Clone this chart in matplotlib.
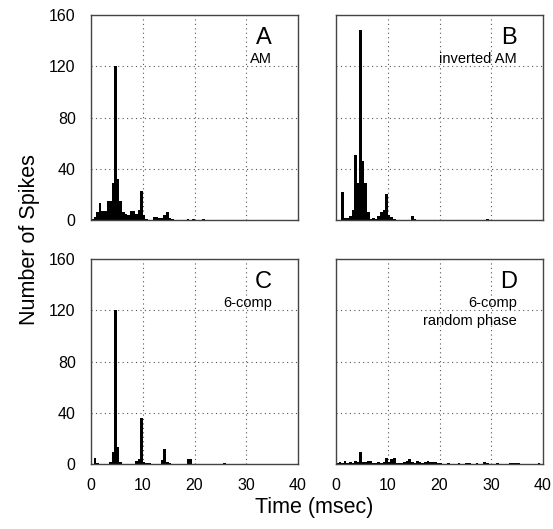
import numpy as np
import matplotlib.pyplot as plt

plt.rcParams['font.family'] = ['Liberation Sans', 'DejaVu Sans']

# histogram bins are 0.5 msec wide, listed by their left edge
a_time = [0.0, 0.5, 1.0, 1.5, 2.0, 2.5, 3.0, 3.5, 4.0, 4.5, 5.0, 5.5, 6.0, 6.5, 7.0,
          7.5, 8.0, 8.5, 9.0, 9.5, 10.0, 10.5, 12.0, 12.5, 13.0, 13.5, 14.0, 14.5,
          15.0, 15.5, 18.5, 19.5, 21.5]
a_count = [1, 2, 6.5, 13, 7, 7, 15, 15, 29, 120, 32, 15, 6.5, 4.7, 4,
           7, 7, 4.5, 8, 22.6, 4, 1, 2.6, 2.6, 1.5, 1.5, 4, 6, 1.5, 0.5, 0.5, 0.5, 0.5]

b_time = [1.0, 1.5, 2.0, 2.5, 3.0, 3.5, 4.0, 4.5, 5.0, 5.5, 6.0, 6.5, 7.0, 7.5,
          8.0, 8.5, 9.0, 9.5, 10.0, 10.5, 11.0, 14.5, 15.0, 29.0]
b_count = [22, 1.3, 1.5, 3, 8, 51, 29, 148, 46, 29, 6.5, 0.5, 1.5, 0.5,
           3, 6.5, 8, 20, 4, 2, 0.5, 3, 1, 1]

c_time = [0.5, 1.0, 3.5, 4.0, 4.5, 5.0, 5.5, 8.5, 9.0, 9.5, 10.0, 10.5, 11.0,
          13.5, 14.0, 14.5, 15.0, 18.5, 19.0, 25.5]
c_count = [5, 1, 1.3, 9.6, 120, 13, 1.5, 2, 4, 36, 1.5, 0.8, 0.8,
           3, 12, 1.5, 0.5, 4, 4, 0.7]

d_time = [0.0, 0.5, 1.0, 1.5, 2.0, 2.5, 3.0, 3.5, 4.0, 4.5, 5.0, 5.5, 6.0, 6.5,
          7.0, 7.5, 8.0, 8.5, 9.0, 9.5, 10.0, 10.5, 11.0, 11.5, 12.0, 12.5, 13.0,
          13.5, 14.0, 14.5, 15.0, 15.5, 16.0, 16.5, 17.0, 17.5, 18.0, 18.5, 19.0,
          19.5, 20.0, 21.5, 23.5, 25.0, 25.5, 27.0, 28.5, 29.0, 31.0, 33.5, 34.0,
          34.5, 35.0, 39.0]
d_count = [0.5, 1.5, 0.8, 2.3, 0.8, 1.5, 0.8, 2.3, 1.5, 9.4, 1.5, 1.3, 2, 2.3,
           1, 1, 1.3, 1, 1.3, 4.4, 1.3, 3.6, 4.7, 0.8, 0.5, 0.8, 1.5,
           2.6, 3.6, 1.3, 0.5, 2, 1.5, 1, 1.3, 2, 1.3, 1.8, 1.8,
           1, 0.8, 0.8, 0.8, 0.8, 0.8, 0.8, 1.5, 0.8, 0.8, 1, 1,
           1, 1, 0.8]

letters = ['A', 'B', 'C', 'D']
subtitles = [['AM'], ['inverted AM'], ['6-comp'], ['6-comp', 'random phase']]
x_ticks = [0, 10, 20, 30, 40]
y_ticks = [0, 40, 80, 120, 160]

fig = plt.figure(figsize=(5.53, 5.29), dpi=100)
W, H = 553.0, 529.0
boxes = [(91, 15), (336, 15), (91, 259), (336, 259)]
data = [(a_time, a_count), (b_time, b_count), (c_time, c_count), (d_time, d_count)]

for i, ((px, py), (t, n)) in enumerate(zip(boxes, data)):
    ax = fig.add_axes([px / W, 1 - (py + 205) / H, 207 / W, 205 / H])
    ax.bar(t, n, width=0.5, align='edge', color='black', linewidth=0)
    ax.set_xlim(0, 40)
    ax.set_ylim(0, 160)
    ax.set_xticks(x_ticks)
    ax.set_yticks(y_ticks)
    ax.grid(True, linestyle=(0, (1, 3)), color='#555555', linewidth=0.8)
    ax.set_axisbelow(True)
    ax.tick_params(length=0, labelsize=11.5)
    ax.tick_params(axis='x', pad=10)
    ax.tick_params(axis='y', pad=11)
    for s in ax.spines.values():
        s.set_color('#444444')
        s.set_linewidth(1.0)
    if i % 2 == 1:
        ax.set_yticklabels([])
    if i < 2:
        ax.set_xticklabels([])

    ax.text(0.875, 0.89, letters[i], transform=ax.transAxes, ha='right', va='center',
            fontsize=17)
    for k, line in enumerate(subtitles[i]):
        ax.text(0.875, 0.785 - k * 0.088, line, transform=ax.transAxes, ha='right',
                va='center', fontsize=10.5)

fig.text(30 / W, 1 - 240 / H, 'Number of Spikes', rotation=90, ha='center', va='center',
         fontsize=15.5)
fig.text(314 / W, 1 - 507 / H, 'Time (msec)', ha='center', va='center', fontsize=15.5)

fig.savefig('out.png', dpi=100)
